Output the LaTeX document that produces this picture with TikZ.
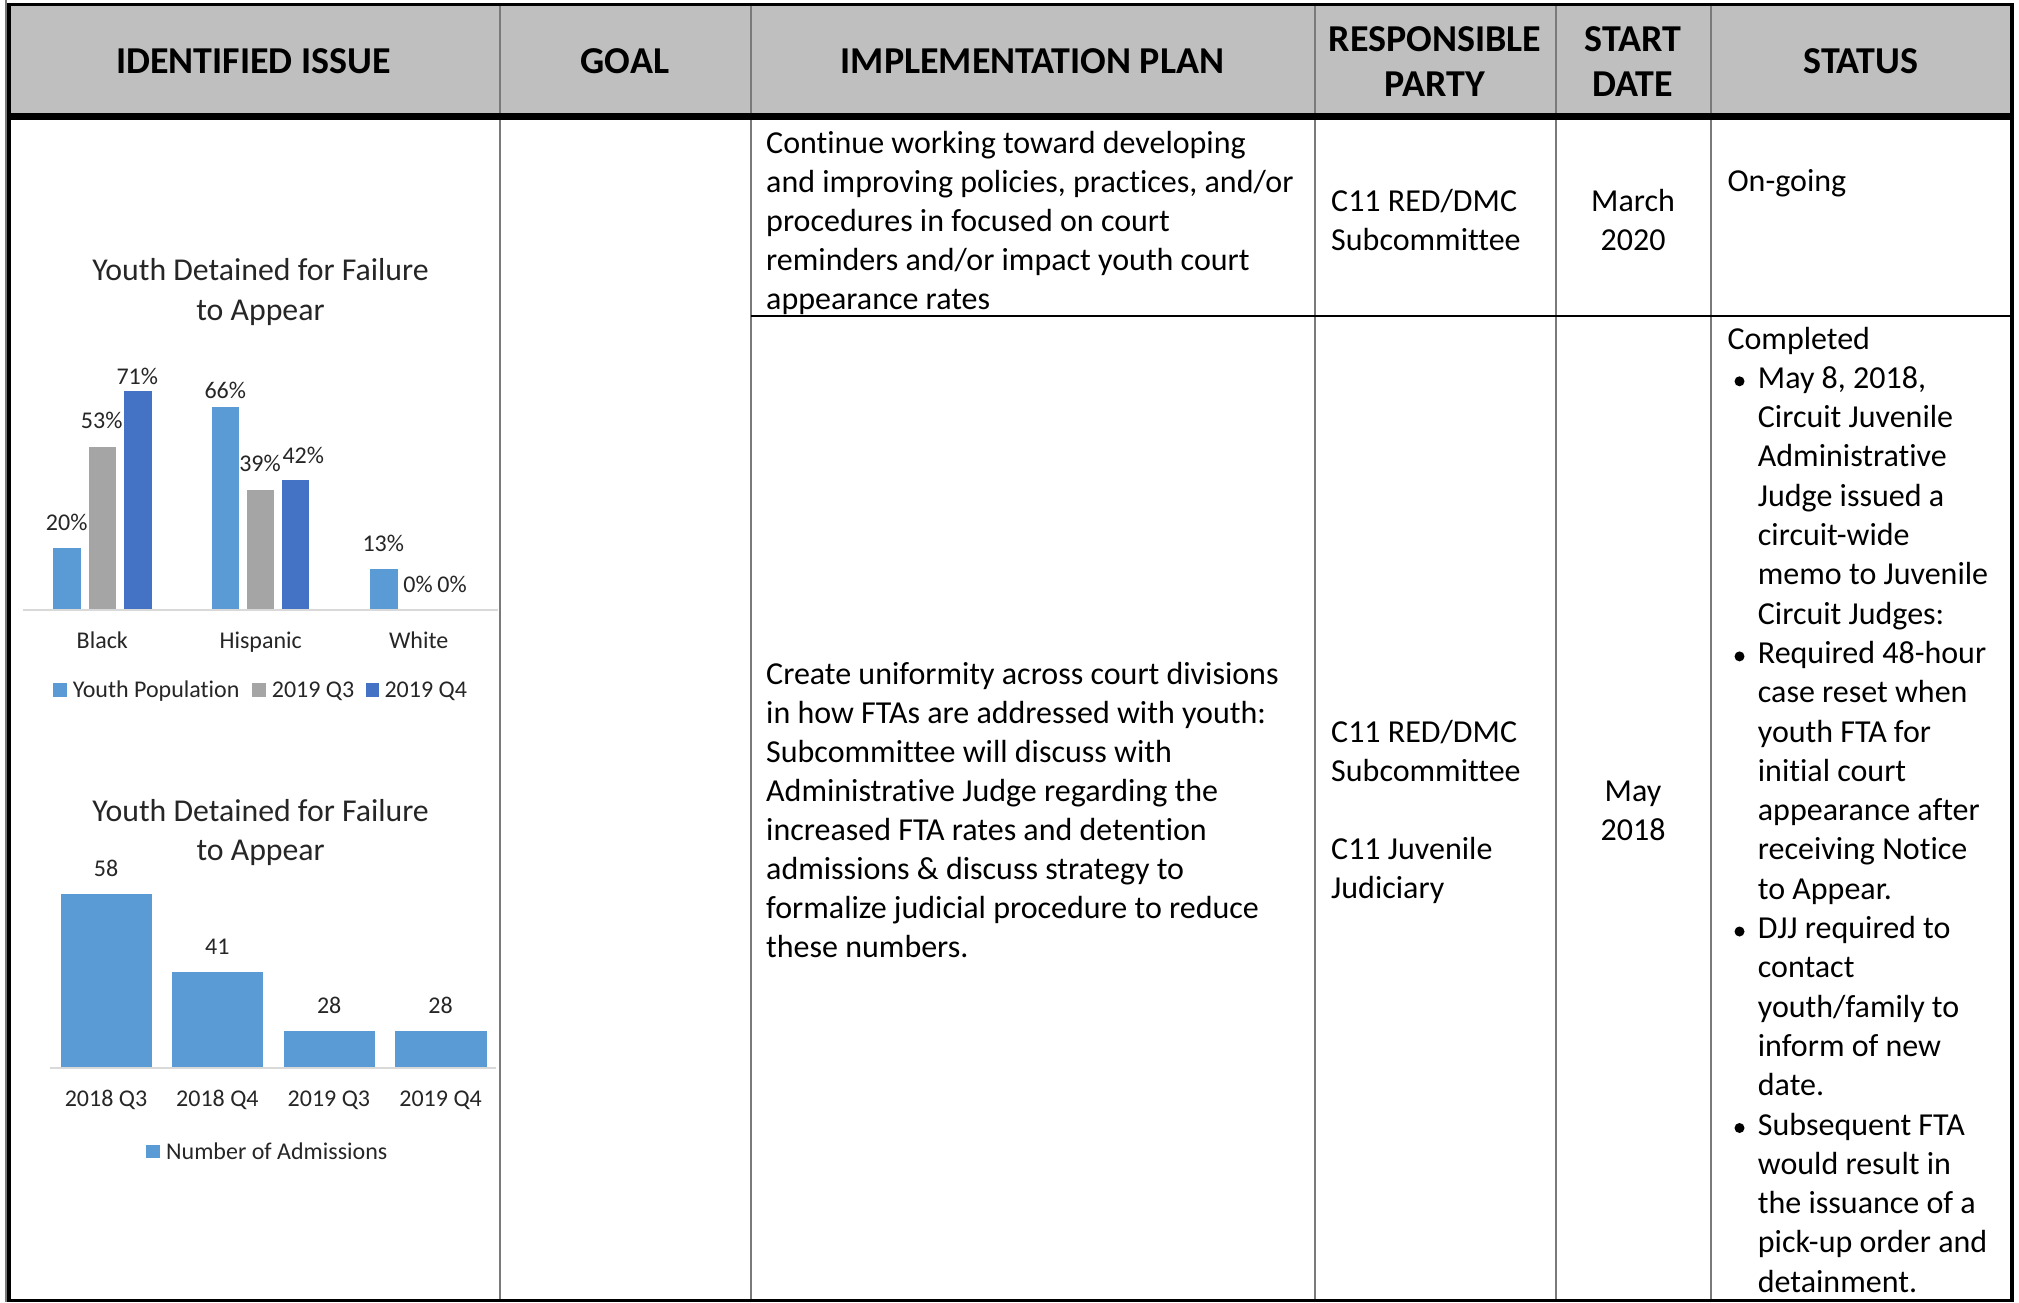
\documentclass[tikz,border=0pt]{standalone}
\usepackage{fontspec}
\setmainfont{Carlito}[Ligatures={NoCommon}]
\definecolor{hdrgray}{HTML}{BFBFBF}
\definecolor{ruleg}{HTML}{7A7A7A}
\definecolor{barA}{HTML}{5B9BD5}
\definecolor{barB}{HTML}{A5A5A5}
\definecolor{barC}{HTML}{4472C4}
\definecolor{axisg}{HTML}{D9D9D9}
\definecolor{charttxt}{HTML}{262626}
\begin{document}
\begin{tikzpicture}[x=1pt,y=-1pt,
  body/.style={font=\fontsize{32}{39}\selectfont, inner sep=0pt, anchor=base west},
  bodyc/.style={body, anchor=base},
  hdr/.style={font=\fontsize{38}{45}\selectfont\bfseries, inner sep=0pt, anchor=base},
  ttl/.style={font=\fontsize{31.8}{38}\selectfont, text=charttxt, inner sep=0pt, anchor=base},
  lab/.style={font=\fontsize{24}{29}\selectfont, text=charttxt, inner sep=0pt, anchor=base},
  labw/.style={lab, anchor=base west},
  vrule/.style={draw=ruleg, line width=2pt},
  axisline/.style={draw=axisg, line width=1.6pt},
  bulletdot/.style={fill=black}
]
\useasboundingbox (0,0) rectangle (2019,1302);
\fill[white] (0,0) rectangle (2019,1302);

% ---------- table frame ----------
\fill[hdrgray] (11,5.7) rectangle (2010,113);
\foreach \x in {499.5,750.7,1314.7,1555.5,1710.7}
  \draw[vrule] (\x,5.7) -- (\x,1299.5);
\draw[line width=1.8pt] (750.7,315.7) -- (2010,315.7);
\fill[ruleg] (5.3,0) rectangle (7.3,1302);
\fill (7.3,3.3) rectangle (11,1302);
\fill (2010,3.3) rectangle (2014,1302);
\fill (7.3,3.3) rectangle (2014,5.7);
\fill (7.3,113) rectangle (2014,119.5);
\fill (7.3,1299.3) rectangle (2014,1302);

% ---------- header ----------
\node[hdr] (hIssue) at (253.5,73) {IDENTIFIED ISSUE};
\node[hdr] (hGoal) at (625,73) {GOAL};
\node[hdr] (hPlan) at (1032.5,73) {IMPLEMENTATION PLAN};
\node[hdr] (hResp1) at (1435,51.5) {RESPONSIBLE};
\node[hdr] (hResp2) at (1435,96.5) {PARTY};
\node[hdr] (hStart1) at (1633,51.5) {START};
\node[hdr] (hStart2) at (1633,96.5) {DATE};
\node[hdr] (hStatus) at (1861,73) {STATUS};

% ---------- implementation plan ----------
\foreach \t [count=\i from 0] in {Continue working toward developing,
  {and improving policies, practices, and/or},
  procedures in focused on court,
  reminders and/or impact youth court,
  appearance rates}
  \node[body] (planA\i) at (766,153+\i*39) {\t};
\foreach \t [count=\i from 0] in {Create uniformity across court divisions,
  in how FTAs are addressed with youth:,
  Subcommittee will discuss with,
  Administrative Judge regarding the,
  increased FTA rates and detention,
  admissions \& discuss strategy to,
  formalize judicial procedure to reduce,
  these numbers.}
  \node[body] (planB\i) at (766,684+\i*39) {\t};

% ---------- responsible party ----------
\node[body] (respA1) at (1331,211) {C11 RED/DMC};
\node[body] (respA2) at (1331,250) {Subcommittee};
\node[body] (respB1) at (1331,742) {C11 RED/DMC};
\node[body] (respB2) at (1331,781) {Subcommittee};
\node[body] (respB3) at (1331,859) {C11 Juvenile};
\node[body] (respB4) at (1331,898) {Judiciary};

% ---------- start date ----------
\node[bodyc] (dateA1) at (1633,211) {March};
\node[bodyc] (dateA2) at (1633,250) {2020};
\node[bodyc] (dateB1) at (1633,801.5) {May};
\node[bodyc] (dateB2) at (1633,840.5) {2018};

% ---------- status ----------
\node[body] (statA) at (1727.3,191.5) {On-going};
\node[body] (statB0) at (1727.3,349) {Completed};
\foreach \t [count=\i from 1] in {{May 8, 2018,},Circuit Juvenile,Administrative,Judge issued a,
  circuit-wide,memo to Juvenile,Circuit Judges:,
  Required 48-hour,case reset when,youth FTA for,initial court,appearance after,
  receiving Notice,to Appear.,
  DJJ required to,contact,youth/family to,inform of new,date.,
  Subsequent FTA,would result in,the issuance of a,pick-up order and,detainment.}
  \node[body] (statB\i) at (1757.7,349+\i*39.3) {\t};
\foreach \i in {1,8,15,20}
  \fill[bulletdot] (1739.5,349+\i*39.3-7) circle (5pt);

% ---------- chart 1 ----------
\node[ttl] (c1t1) at (260.5,280.5) {Youth Detained for Failure};
\node[ttl] (c1t2) at (260.5,320.3) {to Appear};
\fill[barA] (53.3,548.3) rectangle (81.3,609.3);
\fill[barB] (89,446.7) rectangle (116.3,609.3);
\fill[barC] (123.7,391.3) rectangle (151.7,609.3);
\fill[barA] (212,406.7) rectangle (239.3,609.3);
\fill[barB] (247,489.6) rectangle (274.3,609.3);
\fill[barC] (282,480.3) rectangle (309.3,609.3);
\fill[barA] (370.3,569.4) rectangle (397.7,609.3);
\draw[axisline] (23,609.8) -- (498,609.8);
\node[lab] (v20) at (66.7,530.7) {20\%};
\node[lab] (v53) at (101.7,428.7) {53\%};
\node[lab] (v71) at (137.3,384) {71\%};
\node[lab] (v66) at (225.3,398) {66\%};
\node[lab] (v39) at (260,471.3) {39\%};
\node[lab] (v42) at (303.3,463) {42\%};
\node[lab] (v13) at (383.3,551.3) {13\%};
\node[lab] (v0a) at (418,592) {0\%};
\node[lab] (v0b) at (452,592) {0\%};
\node[lab] (catBlack) at (102.3,648.5) {Black};
\node[lab] (catHisp) at (260.7,648.5) {Hispanic};
\node[lab] (catWhite) at (418.7,648.5) {White};
\fill[barA] (53.3,683.3) rectangle (66.7,696.7);
\node[labw] (lgA) at (72.7,697) {Youth Population};
\fill[barB] (252.3,683.3) rectangle (265.7,696.7);
\node[labw] (lgB) at (271.7,697) {2019 Q3};
\fill[barC] (365.7,683.3) rectangle (379,696.7);
\node[labw] (lgC) at (384.3,697) {2019 Q4};

% ---------- chart 2 ----------
\node[ttl] (c2t1) at (260.7,821) {Youth Detained for Failure};
\node[ttl] (c2t2) at (260.7,860.5) {to Appear};
\fill[barA] (60.7,894.3) rectangle (152,1067.7);
\fill[barA] (172,972.3) rectangle (263.4,1067.7);
\fill[barA] (283.6,1031.3) rectangle (374.8,1067.7);
\fill[barA] (395.3,1031.3) rectangle (486.6,1067.7);
\draw[axisline] (50.3,1068.2) -- (496,1068.2);
\node[lab] (n58) at (106,876.3) {58};
\node[lab] (n41) at (217.4,954.7) {41};
\node[lab] (n28a) at (329.2,1013.7) {28};
\node[lab] (n28b) at (440.6,1013.7) {28};
\node[lab] (q1) at (106,1106.3) {2018 Q3};
\node[lab] (q2) at (217.4,1106.3) {2018 Q4};
\node[lab] (q3) at (328.9,1106.3) {2019 Q3};
\node[lab] (q4) at (440.6,1106.3) {2019 Q4};
\fill[barA] (146,1145) rectangle (159.7,1158.3);
\node[labw] (lgN) at (166,1159.5) {Number of Admissions};
\end{tikzpicture}
\end{document}
